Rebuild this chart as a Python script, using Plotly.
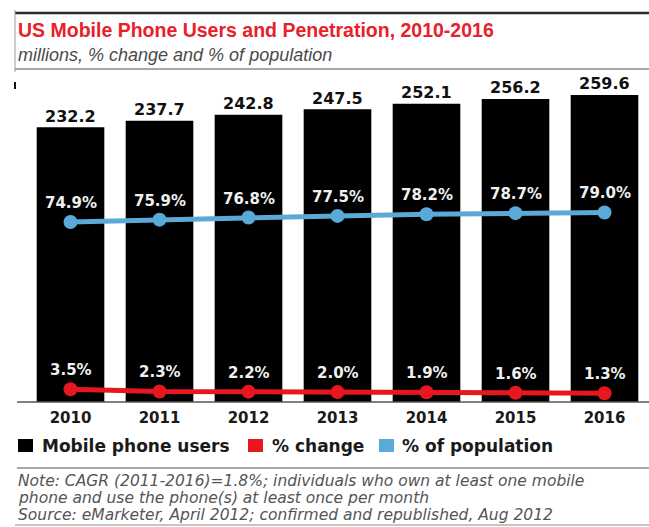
import plotly.graph_objects as go

# --- data -------------------------------------------------------------
years = ["2010", "2011", "2012", "2013", "2014", "2015", "2016"]
users_mn = [232.2, 237.7, 242.8, 247.5, 252.1, 256.2, 259.6]
pct_change = [3.5, 2.3, 2.2, 2.0, 1.9, 1.6, 1.3]
pct_population = [74.9, 75.9, 76.8, 77.5, 78.2, 78.7, 79.0]

title_text = "US Mobile Phone Users and Penetration, 2010-2016"
subtitle_text = "millions, % change and % of population"
legend_labels = ["Mobile phone users", "% change", "% of population"]
note_lines = [
    "Note: CAGR (2011-2016)=1.8%; individuals who own at least one mobile",
    "phone and use the phone(s) at least once per month",
    "Source: eMarketer, April 2012; confirmed and republished, Aug 2012",
]

# --- styling ------------------------------------------------------------
W, H = 649, 527
BLACK = "#000000"
RED = "#e8171f"
BLUE = "#5ba9d9"
TITLE_RED = "#e8202a"
SANS = "DejaVu Sans"
ARIAL = "Liberation Sans"


def px(x):
    return x / W


def py(y):
    return 1 - y / H


def bold(size, color):
    return dict(family=SANS, size=size, color=color, weight="bold")


fig = go.Figure()

fig.add_trace(go.Bar(
    x=years, y=users_mn, marker=dict(color=BLACK, line=dict(width=0)),
    name=legend_labels[0], showlegend=False, hoverinfo="x+y",
))
fig.add_trace(go.Scatter(
    x=years, y=pct_population, yaxis="y2", mode="lines+markers",
    line=dict(color=BLUE, width=5), marker=dict(color=BLUE, size=14),
    name=legend_labels[2], showlegend=False,
))
fig.add_trace(go.Scatter(
    x=years, y=pct_change, yaxis="y3", mode="lines+markers",
    line=dict(color=RED, width=5), marker=dict(color=RED, size=14),
    name=legend_labels[1], showlegend=False,
))

annotations = []
# value labels (category index used as x position)
for i, v in enumerate(users_mn):
    annotations.append(dict(x=i, y=v, xref="x", yref="y", text=f"{v:.1f}",
                            showarrow=False, yanchor="middle", yshift=11,
                            font=bold(16, "#111")))
for i, v in enumerate(pct_population):
    annotations.append(dict(x=i, y=v, xref="x", yref="y2", text=f"{v:.1f}%",
                            showarrow=False, yanchor="middle", yshift=19,
                            font=bold(15, "#f0f0f0")))
for i, v in enumerate(pct_change):
    annotations.append(dict(x=i, y=v, xref="x", yref="y3", text=f"{v:.1f}%",
                            showarrow=False, yanchor="middle", yshift=19,
                            font=bold(15, "#f0f0f0")))

# title block
annotations.append(dict(x=px(16), y=py(30), xref="paper", yref="paper",
                        xanchor="left", yanchor="middle", showarrow=False,
                        text=title_text,
                        font=dict(family=ARIAL, size=19.5, color=TITLE_RED, weight="bold")))
annotations.append(dict(x=px(16), y=py(55), xref="paper", yref="paper",
                        xanchor="left", yanchor="middle", showarrow=False,
                        text=subtitle_text,
                        font=dict(family=ARIAL, size=18, color="#4a4a4a", style="italic")))

# legend (manual swatches + labels)
legend_items = [
    (18, 33, BLACK, 40, legend_labels[0]),
    (248, 263, RED, 270, legend_labels[1]),
    (379, 394, BLUE, 400, legend_labels[2]),
]
shapes = []
for x0, x1, col, tx, lab in legend_items:
    shapes.append(dict(type="rect", xref="paper", yref="paper",
                       x0=px(x0), x1=px(x1), y0=py(452), y1=py(439),
                       fillcolor=col, line=dict(width=0)))
    annotations.append(dict(x=px(tx), y=py(446), xref="paper", yref="paper",
                            xanchor="left", yanchor="middle", showarrow=False,
                            text=lab, font=bold(17, "#1a1a1a")))

# footnote
for i, line in enumerate(note_lines):
    annotations.append(dict(x=px(17), y=py(481 + 17 * i), xref="paper", yref="paper",
                            xanchor="left", yanchor="middle", showarrow=False,
                            text=line, borderpad=0,
                            font=dict(family=SANS, size=15.5, color="#555", style="italic")))

# rules and frame lines
shapes += [
    dict(type="line", xref="paper", yref="paper", x0=px(15), x1=1, y0=py(13), y1=py(13),
         line=dict(color="#2a2a2a", width=2.5)),
    dict(type="line", xref="paper", yref="paper", x0=px(15), x1=1, y0=py(69), y1=py(69),
         line=dict(color="#8a8a8a", width=1.5)),
    dict(type="line", xref="paper", yref="paper", x0=px(15), x1=px(15), y0=py(10), y1=py(72),
         line=dict(color="#9a9a9a", width=1)),
    dict(type="line", xref="paper", yref="paper", x0=px(15), x1=px(15), y0=py(82), y1=py(89),
         line=dict(color="#111", width=2)),
    dict(type="line", xref="paper", yref="paper", x0=px(17), x1=1, y0=py(402), y1=py(402),
         line=dict(color="#555", width=1.5)),
    dict(type="line", xref="paper", yref="paper", x0=px(17), x1=1, y0=py(468), y1=py(468),
         line=dict(color="#8a8a8a", width=1.5)),
    dict(type="line", xref="paper", yref="paper", x0=px(15), x1=1, y0=py(525), y1=py(525),
         line=dict(color="#8a8a8a", width=1)),
]

plot_dom_y = [1 - 402 / H, 1 - 85 / H]
fig.update_layout(
    width=W, height=H,
    margin=dict(l=0, r=0, t=0, b=0),
    paper_bgcolor="white", plot_bgcolor="white",
    bargap=0.24,
    showlegend=False,
    xaxis=dict(domain=[26 / W, 1], type="category", range=[-0.5, 6.5],
               showgrid=False, zeroline=False, showline=False,
               ticks="outside", ticklen=2, tickcolor="rgba(0,0,0,0)",
               tickfont=bold(15, "#1a1a1a"),
               automargin=False, fixedrange=True),
    yaxis=dict(domain=plot_dom_y, range=[0, 268], visible=False, fixedrange=True),
    yaxis2=dict(domain=plot_dom_y, overlaying="y", range=[-2.8, 134.0],
                visible=False, fixedrange=True),
    yaxis3=dict(domain=plot_dom_y, overlaying="y", range=[-3.48, 170.7],
                visible=False, fixedrange=True),
    annotations=annotations,
    shapes=shapes,
)

fig.write_html("out.html")
